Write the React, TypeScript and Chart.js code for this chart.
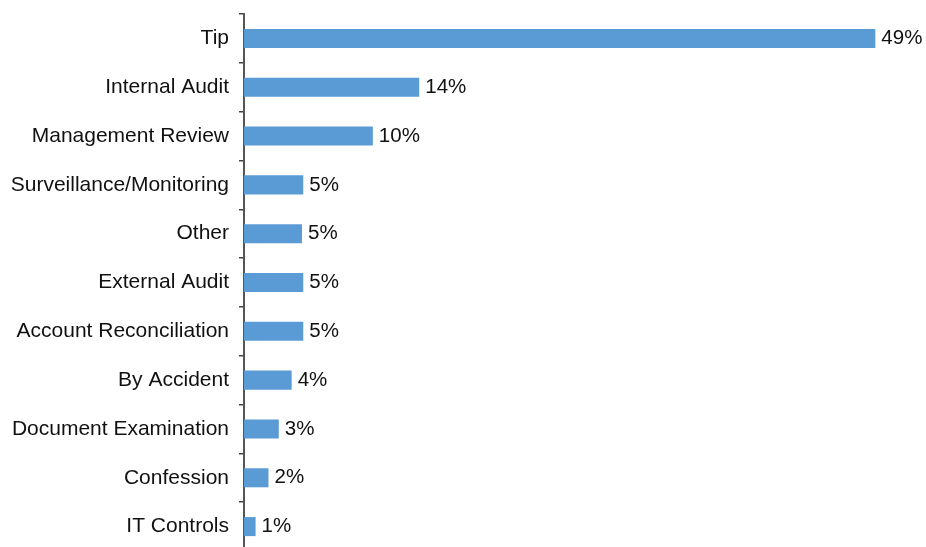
import React, { useEffect, useRef } from "react";
import { Chart, registerables } from "chart.js";

Chart.register(...registerables);

const categories = [
  "Tip",
  "Internal Audit",
  "Management Review",
  "Surveillance/Monitoring",
  "Other",
  "External Audit",
  "Account Reconciliation",
  "By Accident",
  "Document Examination",
  "Confession",
  "IT Controls",
];

const values = [49, 13.6, 10, 4.6, 4.5, 4.6, 4.6, 3.7, 2.7, 1.9, 0.9];

const valueLabels = ["49%", "14%", "10%", "5%", "5%", "5%", "5%", "4%", "3%", "2%", "1%"];

const FONT = "'Liberation Sans', Arial, Helvetica, sans-serif";

const barLabelPlugin = {
  id: "barLabels",
  afterDatasetsDraw(chart: any) {
    const ctx = chart.ctx;
    const meta = chart.getDatasetMeta(0);
    ctx.save();
    ctx.font = `20.5px ${FONT}`;
    ctx.fillStyle = "#111";
    ctx.textAlign = "left";
    ctx.textBaseline = "middle";
    meta.data.forEach((el: any, i: number) => {
      ctx.fillText(valueLabels[i], el.x + 6, el.y);
    });
    ctx.restore();
  },
};

export default function App() {
  const canvasRef = useRef<HTMLCanvasElement | null>(null);

  useEffect(() => {
    if (!canvasRef.current) return;
    const chart = new Chart(canvasRef.current, {
      type: "bar",
      data: {
        labels: categories,
        datasets: [
          {
            data: values,
            backgroundColor: "#5B9BD5",
            borderWidth: 0,
            barPercentage: 0.39,
            categoryPercentage: 1,
          },
        ],
      },
      options: {
        indexAxis: "y",
        animation: false,
        responsive: true,
        maintainAspectRatio: false,
        layout: { padding: { top: 14, right: 12, bottom: 0, left: 0 } },
        plugins: {
          legend: { display: false },
          tooltip: { enabled: false },
        },
        scales: {
          x: {
            display: false,
            min: 0,
            max: 52,
          },
          y: {
            afterFit: (scale: any) => {
              scale.width = 244;
              scale.paddingTop = 0;
              scale.paddingBottom = 0;
            },
            border: { display: true, color: "#555", width: 2 },
            grid: {
              display: true,
              drawOnChartArea: false,
              drawTicks: true,
              tickLength: 5,
              offset: true,
              color: "#444",
              lineWidth: 1.5,
            },
            ticks: {
              color: "#111",
              padding: 10,
              font: { family: FONT, size: 21 },
            },
          },
        },
      },
      plugins: [barLabelPlugin],
    });
    return () => chart.destroy();
  }, []);

  return (
    <div
      style={{
        position: "fixed",
        left: 0,
        top: 0,
        width: 926,
        height: 547,
        overflow: "hidden",
        background: "#fff",
      }}
    >
      <div style={{ position: "relative", width: 926, height: 551 }}>
        <canvas ref={canvasRef} />
      </div>
    </div>
  );
}
